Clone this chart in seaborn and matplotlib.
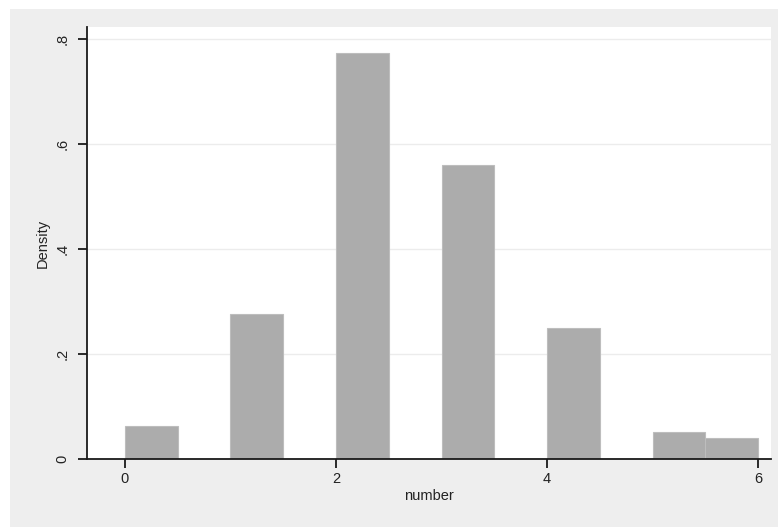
import numpy as np
import pandas as pd
import matplotlib
matplotlib.use("Agg")
import matplotlib.pyplot as plt
from matplotlib.patches import Rectangle
import seaborn as sns

# observed values and their densities (bin width 0.5)
numbers = [0, 1, 2, 3, 4, 5, 6]
density = [0.063, 0.276, 0.773, 0.560, 0.250, 0.051, 0.040]

y_ticks = [0, 0.2, 0.4, 0.6, 0.8]
y_ticklabels = ["0", ".2", ".4", ".6", ".8"]
x_ticks = [0, 2, 4, 6]
x_ticklabels = ["0", "2", "4", "6"]

df = pd.DataFrame({"number": numbers, "density": density})

sns.set_theme(style="white")
plt.rcParams["font.family"] = ["Liberation Sans", "DejaVu Sans"]

fig = plt.figure(figsize=(7.78, 5.27), dpi=100, facecolor="white")
# grey graph region behind the plot
fig.patches.append(Rectangle((10 / 778, 0), 768 / 778, 518 / 527,
                             transform=fig.transFigure, facecolor="#eeeeee",
                             edgecolor="none", zorder=-10))
ax = fig.add_axes([87 / 778, 68 / 527, 684 / 778, 432 / 527])
ax.set_facecolor("white")

for y in y_ticks[1:]:
    ax.axhline(y, color="#ececec", linewidth=1.0, zorder=0.5)

sns.histplot(data=df, x="number", weights="density", bins=12,
             binrange=(0, 6), stat="count", color="#acacac", alpha=1.0,
             edgecolor="#bdbdbd", linewidth=0.8, ax=ax)

ax.set_xlim(-0.36, 6.123)
ax.set_ylim(0, 0.823)

ax.set_yticks(y_ticks)
ax.set_yticklabels(y_ticklabels, rotation=90, va="center")
ax.set_xticks(x_ticks)
ax.set_xticklabels(x_ticklabels)

for side in ["top", "right"]:
    ax.spines[side].set_visible(False)
for side in ["left", "bottom"]:
    ax.spines[side].set_color("#1a1a1a")
    ax.spines[side].set_linewidth(1.3)

ax.tick_params(axis="both", which="major", direction="out", length=6.5,
               width=1.3, color="#1a1a1a", labelsize=10.5,
               labelcolor="#222222", left=True, bottom=True)
ax.tick_params(axis="y", pad=6)
ax.tick_params(axis="x", pad=3)

ax.set_xlabel("number", fontsize=10.5, color="#222222", labelpad=2)
ax.set_ylabel("Density", fontsize=10.5, color="#222222", labelpad=4)

fig.savefig("out.png", dpi=100, facecolor=fig.get_facecolor())
